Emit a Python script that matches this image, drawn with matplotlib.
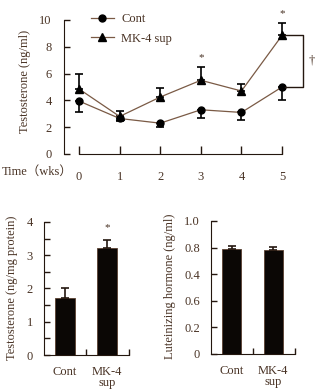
import matplotlib
matplotlib.use('Agg')
import matplotlib.pyplot as plt
import numpy as np

# serum testosterone over time
weeks = [0, 1, 2, 3, 4, 5]
cont_mean = [3.95, 2.65, 2.3, 3.3, 3.1, 5.0]
cont_err = [0.8, 0.2, 0.3, 0.6, 0.55, 1.0]
mk4_mean = [4.85, 2.8, 4.25, 5.5, 4.7, 8.85]
mk4_err = [1.15, 0.4, 0.65, 1.0, 0.55, 0.95]
sig_weeks = [3, 5]

# testicular testosterone and LH at the end
groups = ['Cont', 'MK-4\nsup']
testis_mean = [1.72, 3.22]
testis_err = [0.28, 0.25]
lh_mean = [0.79, 0.78]
lh_err = [0.02, 0.025]
lh_ticks = [0, 0.2, 0.4, 0.6, 0.8, 1.0]
lh_ticklabels = ['0', '0.2', '0.6', '0.4', '0.8', '1.0']

txt = '#4a3426'
dark = '#24170f'
line_c = '#7a5a45'

plt.rcParams['font.family'] = ['Liberation Serif', 'Noto Sans CJK SC', 'DejaVu Sans']
plt.rcParams['font.size'] = 9
plt.rcParams['text.color'] = txt
plt.rcParams['axes.labelcolor'] = txt
plt.rcParams['xtick.color'] = dark
plt.rcParams['ytick.color'] = dark
plt.rcParams['xtick.labelcolor'] = txt
plt.rcParams['ytick.labelcolor'] = txt
plt.rcParams['axes.edgecolor'] = dark

W, H = 330, 391
fig = plt.figure(figsize=(W / 100, H / 100), dpi=100)

def frac(left, bottom, width, height):
    return [left / W, (H - bottom) / H, width / W, height / H]

# --- top: time course ---
ax = fig.add_axes(frac(64, 154, 254.6, 146.1))
ax.set_xlim(-0.37, 5.9)
ax.set_ylim(0, 10.9)
for s in ['top', 'right']:
    ax.spines[s].set_visible(False)
ax.spines['left'].set_bounds(0, 10)
ax.spines['bottom'].set_bounds(0, 5)

# one-sided error bars: down for control, up for MK-4
ax.errorbar(weeks, cont_mean, yerr=[cont_err, [0] * 6], fmt='none', ecolor='black',
            elinewidth=1.2, capsize=3, capthick=1.2)
ax.errorbar(weeks, mk4_mean, yerr=[[0] * 6, mk4_err], fmt='none', ecolor='black',
            elinewidth=1.2, capsize=3, capthick=1.2)
ax.plot(weeks, cont_mean, color=line_c, lw=0.9, marker='o', ms=5,
        mfc='black', mec='black', label='Cont')
ax.plot(weeks, mk4_mean, color=line_c, lw=0.9, marker='^', ms=6,
        mfc='black', mec='black', label='MK-4 sup')

for w in sig_weeks:
    top = mk4_mean[w] + mk4_err[w]
    ax.text(w, top + 0.7, '*', ha='center', va='center', fontsize=8)

# bracket between the groups at week 5
bx = 5.52
ax.plot([5.08, bx, bx, 5.08], [mk4_mean[5], mk4_mean[5], cont_mean[5], cont_mean[5]],
        color=dark, lw=1.0)
ax.text(5.74, 7.0, '†', ha='center', va='center', fontsize=9)

ax.set_yticks([0, 2, 4, 6, 8, 10])
ax.set_xticks(weeks)
ax.tick_params(axis='y', direction='in', length=4, width=1, pad=9)
ax.tick_params(axis='x', direction='in', length=6, width=1, pad=12)
ax.set_ylabel('Testosterone (ng/ml)', labelpad=6)
ax.text(-0.15, -1.35, 'Time（wks）', ha='right', va='center', fontsize=9, clip_on=False)

ax.legend(loc='upper left', bbox_to_anchor=(0.06, 1.04), frameon=False,
          handlelength=1.9, handletextpad=0.55, labelspacing=0.6, fontsize=9)

# --- bottom panels: bar charts ---
def bar_panel(rect, means, errs, ymax, bound):
    a = fig.add_axes(rect)
    x = np.arange(len(means))
    a.bar(x, means, width=0.46, color='#0b0705', edgecolor='#5a4030', lw=0.6)
    a.errorbar(x, means, yerr=[[0] * len(errs), errs], fmt='none', ecolor=dark,
               elinewidth=1.2, capsize=3.2, capthick=1.2)
    a.set_xlim(-0.5, 1.55)
    a.set_ylim(0, ymax)
    for s in ['top', 'right']:
        a.spines[s].set_visible(False)
    a.spines['left'].set_bounds(0, bound)
    a.spines['bottom'].set_bounds(-0.5, 1.53)
    a.set_xticks([0.5, 1.53])
    a.set_xticklabels([])
    a.set_xticks(x, groups, minor=True)
    a.tick_params(axis='x', which='major', direction='in', length=4, width=1)
    a.tick_params(axis='x', which='minor', length=0, pad=8)
    a.tick_params(axis='y', direction='in', length=4, width=1, pad=8)
    for lab in a.get_xticklabels(minor=True):
        lab.set_linespacing(0.9)
    return a

ax2 = bar_panel(frac(44, 355, 86.1, 134.7), testis_mean, testis_err, 4.05, 4)
ax2.set_yticks([0, 1, 2, 3, 4])
ax2.set_yticks(np.arange(0.5, 4, 1), minor=True)
ax2.tick_params(axis='y', which='minor', direction='in', length=4, width=1)
ax2.set_ylabel('Testosterone (ng/mg protein)', labelpad=6)
ax2.text(1, testis_mean[1] + testis_err[1] + 0.35, '*', ha='center', va='center', fontsize=8)

ax3 = bar_panel(frac(211, 354, 85.1, 135.7), lh_mean, lh_err, 1.02, 1.0)
ax3.set_yticks(lh_ticks, lh_ticklabels)
ax3.set_ylabel('Luteinizing hormone (ng/ml)', labelpad=6)

fig.savefig('out.png', dpi=100)
